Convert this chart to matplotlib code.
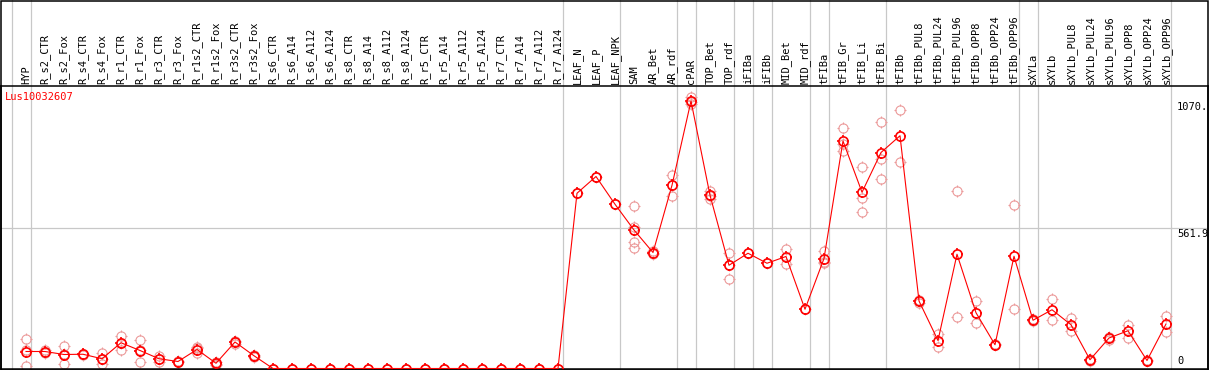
import numpy as np
import matplotlib
matplotlib.use("Agg")
import matplotlib.pyplot as plt
from matplotlib.path import Path
from matplotlib.patches import Rectangle


gene = "Lus10032607"

samples = ["HYP", "R_s2_CTR", "R_s2_Fox", "R_s4_CTR", "R_s4_Fox", "R_r1_CTR", "R_r1_Fox",
           "R_r3_CTR", "R_r3_Fox", "R_r1s2_CTR", "R_r1s2_Fox", "R_r3s2_CTR", "R_r3s2_Fox",
           "R_s6_CTR", "R_s6_A14", "R_s6_A112", "R_s6_A124", "R_s8_CTR", "R_s8_A14",
           "R_s8_A112", "R_s8_A124", "R_r5_CTR", "R_r5_A14", "R_r5_A112", "R_r5_A124",
           "R_r7_CTR", "R_r7_A14", "R_r7_A112", "R_r7_A124", "LEAF_N", "LEAF_P", "LEAF_NPK",
           "SAM", "AR_Bet", "AR_rdf", "cPAR", "TOP_Bet", "TOP_rdf", "iFIBa", "iFIBb",
           "MID_Bet", "MID_rdf", "tFIBa", "tFIB_Gr", "tFIB_Li", "tFIB_Bi", "tFIBb",
           "tFIBb_PUL8", "tFIBb_PUL24", "tFIBb_PUL96", "tFIBb_OPP8", "tFIBb_OPP24",
           "tFIBb_OPP96", "sXYLa", "sXYLb", "sXYLb_PUL8", "sXYLb_PUL24", "sXYLb_PUL96",
           "sXYLb_OPP8", "sXYLb_OPP24", "sXYLb_OPP96"]

means = [68, 68, 56, 57, 39, 103, 72, 39, 28, 76, 21, 106, 51,
         0, 0, 0, 0, 0, 0, 0, 0, 0, 0, 0, 0, 0, 0, 0, 0,
         701, 768, 657, 554, 464, 733, 1070, 693, 413, 461, 421, 448, 237, 440,
         910, 705, 864, 931, 270, 112, 457, 223, 95, 449,
         193, 235, 175, 35, 122, 151, 32, 178]

replicates = [[119, 9, 76], [75, 62, 67], [89, 19, 60], [60, 54, 57], [61, 19, 37],
              [131, 75, 103], [115, 28, 73], [52, 28, 37], [30, 26, 28], [85, 61, 82],
              [28, 16, 19], [112, 100, 106], [55, 47, 51],
              [0, 0], [0, 0], [0, 0], [0, 0], [0, 0], [0, 0], [0, 0], [0, 0],
              [0, 0], [0, 0], [0, 0], [0, 0], [0, 0], [0, 0], [0, 0], [0, 0],
              [701], [768], [657], [649, 567, 508, 482], [470, 460, 462],
              [774, 689, 736], [1086, 1059, 1065], [711, 679, 689], [464, 360, 415],
              [461], [421], [477, 419], [237], [469, 423, 428],
              [962, 871, 897], [805, 681, 626], [987, 837, 758], [1035, 827],
              [276, 262], [139, 88], [710, 207], [269, 183], [97, 93], [654, 240],
              [197, 190], [277, 193], [202, 150], [38, 32], [128, 116], [175, 123],
              [34, 30], [211, 148]]

# group separators sit just after these sample indices
group_ends = [-1, 0, 28, 31, 34, 35, 37, 38, 39, 41, 42, 45, 52, 53, 60]

ytick_vals = [1070, 561.9, 0]
ytick_text = ["1070.", "561.9", "0"]

# four short ticks around the circle, like the original plotting symbol
r = 0.66
ticks = Path([(0, r), (0, 1), (0, -r), (0, -1), (r, 0), (1, 0), (-r, 0), (-1, 0)],
             [Path.MOVETO, Path.LINETO] * 4)


def draw_points(xs, ys, color, lw, z):
    ax.plot(xs, ys, linestyle="none", marker="o", markersize=6.6,
            markerfacecolor="none", markeredgecolor=color, markeredgewidth=lw, zorder=z)
    ax.plot(xs, ys, linestyle="none", marker=ticks, markersize=8.6,
            markeredgecolor=color, markeredgewidth=lw, zorder=z)


W, H = 1209, 370
fig = plt.figure(figsize=(W / 100, H / 100), dpi=100)
ax = fig.add_axes([1 / W, 1 / H, 1207 / W, 283 / H])

x = np.arange(len(samples))
ax.set_xlim(-25 / 19, -25 / 19 + 1207 / 19)
ax.set_ylim(-2, 1130)

mono = "DejaVu Sans Mono"

for g in group_ends:
    ax.axvline(g + 4.5 / 19, ymin=0, ymax=369 / 283, color="#c8c8c8", lw=0.9,
               clip_on=False, zorder=1)
ax.axhline(561.9, color="#c8c8c8", lw=0.9, zorder=1)

for i, reps in enumerate(replicates):
    draw_points([i] * len(reps), reps, "#ec9a9a", 0.8, 2)

ax.plot(x, means, color="red", lw=0.8, zorder=3)
draw_points(x, means, "red", 1.2, 4)

for i, s in enumerate(samples):
    ax.text(i, 1130 + 2 / 0.25, s, rotation=90, ha="center", va="bottom",
            family=mono, fontsize=7.5, clip_on=False)

for v, t in zip(ytick_vals, ytick_text):
    ax.text(60.58, v + (10 if v == 0 else -4), t, ha="left",
            va="bottom" if v == 0 else "top", family=mono, fontsize=7.5)

ax.text(-21 / 19, 1086, gene, color="red", ha="left", va="center", family=mono,
        fontsize=7.5)

ax.set_xticks([])
ax.set_yticks([])
for sp in ax.spines.values():
    sp.set_linewidth(1.1)
    sp.set_color("black")

fig.patches.append(Rectangle((0.5 / W, 0.5 / H), 1 - 1.5 / W, 1 - 1.5 / H,
                             transform=fig.transFigure, fill=False,
                             edgecolor="black", lw=1.1))

fig.savefig("out.png", dpi=100)
